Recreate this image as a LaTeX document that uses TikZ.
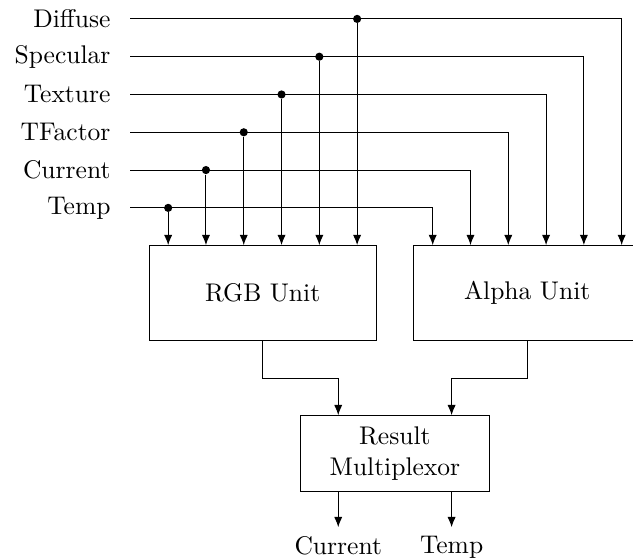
\documentclass[tikz,border=0pt]{standalone}
\usetikzlibrary{positioning, arrows.meta}
\tikzset{
  unit/.style   ={draw, line width=0.4pt, align=center, inner sep=2pt},
  src/.style    ={anchor=east, inner xsep=7.6pt, inner ysep=0pt},
  wire/.style   ={line width=0.4pt},
  feed/.style   ={-{Latex[length=4pt,width=3.2pt]}, line width=0.4pt},
  tap/.style    ={circle, fill, inner sep=0pt, minimum size=3.2pt},
  outlbl/.style ={anchor=north},
}
\begin{document}
\begin{tikzpicture}[x=0.52cm, y=0.52cm]
\useasboundingbox (-0.45,0.5) rectangle (16.3,-14.29);

% --- units ---
\node[unit, minimum width=3.12cm, minimum height=1.3cm] (rgb) at (6.5,-7.25) {RGB Unit};
\node[unit, minimum width=3.12cm, minimum height=1.3cm] (alpha) at (13.5,-7.25) {Alpha Unit};
\node[unit, minimum width=2.6cm, minimum height=1.04cm] (mux) at (10,-11.5) {Result\\Multiplexor};

% --- sources, taps and feeds ---
\foreach \name/\lbl [count=\i from 0] in
    {dif/Diffuse, spe/Specular, tex/Texture, tfa/TFactor, cur/Current, tmp/Temp}
{
  \node[src] (\name) at (3,-\i) {\lbl};
  \node[tap] (j\name) at ({9-\i},-\i) {};
  \draw[feed] (\name.east) -| ({16-\i},0 |- alpha.north);
  \draw[feed] (j\name) -- (j\name |- rgb.north);
}

% --- units to multiplexor ---
\draw[feed] (rgb.south) -- ++(0,-1) -| (8.5,0 |- mux.north);
\draw[feed] (alpha.south) -- ++(0,-1) -| (11.5,0 |- mux.north);

% --- outputs ---
\node[outlbl] (ocur) at (8.5,-13.45) {Current};
\node[outlbl] (otmp) at (11.5,-13.45) {Temp};
\draw[feed] (ocur.north |- mux.south) -- (ocur.north);
\draw[feed] (otmp.north |- mux.south) -- (otmp.north);

\end{tikzpicture}
\end{document}
